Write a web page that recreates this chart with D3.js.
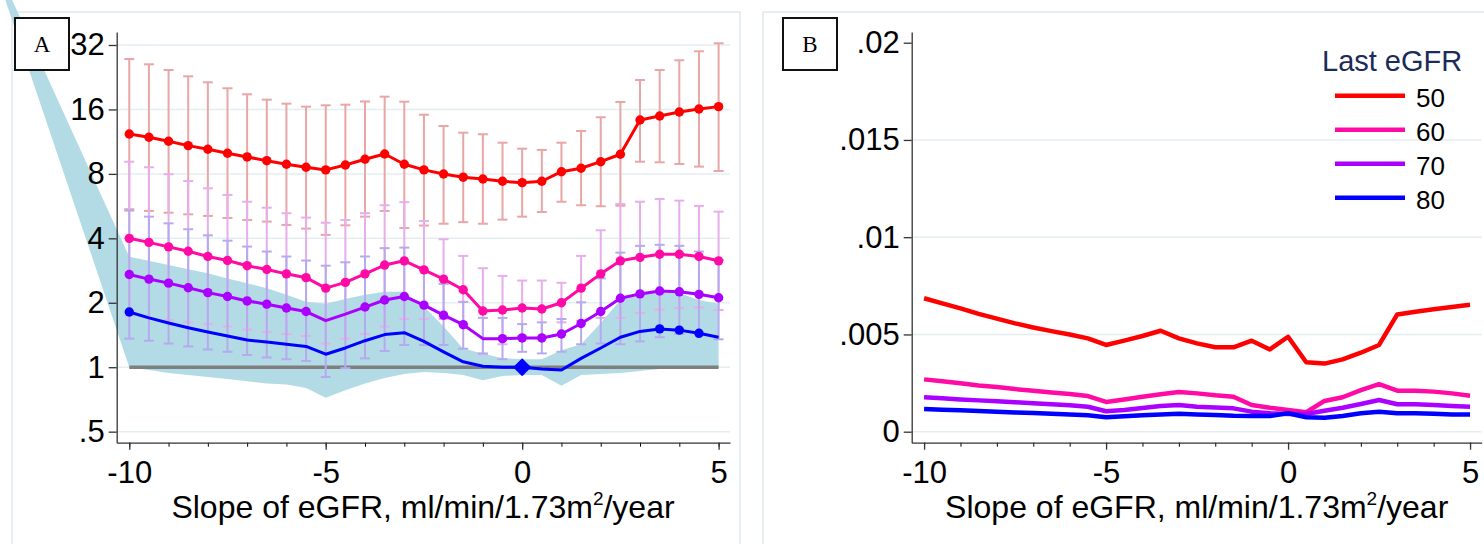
<!DOCTYPE html>
<html>
<head>
<meta charset="utf-8">
<script src="https://cdn.jsdelivr.net/npm/d3@7"></script>
<style>
  body { margin: 0; background: #fff; }
  svg { display: block; font-family: "Liberation Sans", Arial, sans-serif; }
</style>
</head>
<body>
<svg id="chart" width="1484" height="544"></svg>
<script>
// slope of eGFR (x categories)
let slopes = [-10, -9.5, -9, -8.5, -8, -7.5, -7, -6.5, -6, -5.5, -5, -4.5, -4, -3.5, -3, -2.5, -2, -1.5, -1, -0.5, 0, 0.5, 1, 1.5, 2, 2.5, 3, 3.5, 4, 4.5, 5];

// panel A: hazard ratios by last eGFR, with 95% CI
let hrRed = [12.29, 11.86, 11.36, 10.84, 10.43, 9.99, 9.60, 9.22, 8.87, 8.59, 8.35, 8.80, 9.36, 9.91, 8.87, 8.35, 7.99, 7.72, 7.57, 7.39, 7.28, 7.39, 8.19, 8.50, 9.12, 9.88, 14.28, 14.91, 15.57, 16.08, 16.49];
let hiRed = [27.53, 26.0, 24.46, 22.85, 21.42, 20.09, 18.83, 17.77, 17.02, 16.48, 16.73, 16.84, 17.43, 18.36, 17.39, 15.12, 13.39, 12.46, 12.25, 11.19, 10.49, 10.35, 11.19, 12.69, 14.71, 17.34, 21.96, 24.46, 27.15, 29.91, 32.59];
let loRed = [5.47, 5.37, 5.27, 5.18, 5.09, 4.98, 4.87, 4.79, 4.62, 4.44, 4.15, 4.60, 5.05, 5.37, 4.47, 4.59, 4.68, 4.76, 4.68, 4.89, 5.05, 5.31, 5.93, 5.71, 5.65, 5.68, 9.12, 9.06, 8.90, 8.65, 8.25];

let hrPink = [4.00, 3.83, 3.65, 3.48, 3.29, 3.15, 2.98, 2.86, 2.73, 2.62, 2.34, 2.49, 2.73, 3.00, 3.14, 2.85, 2.58, 2.30, 1.83, 1.85, 1.89, 1.87, 2.00, 2.34, 2.73, 3.14, 3.26, 3.37, 3.37, 3.29, 3.14];
let hiPink = [9.12, 8.59, 7.97, 7.41, 6.85, 6.38, 5.93, 5.56, 5.24, 5.00, 4.73, 4.87, 5.24, 5.71, 5.90, 4.82, 3.96, 3.31, 2.90, 2.67, 2.54, 2.54, 2.48, 3.31, 4.36, 5.79, 5.93, 6.11, 6.00, 5.67, 5.33];
let loPink = [1.74, 1.70, 1.66, 1.62, 1.59, 1.55, 1.50, 1.46, 1.43, 1.40, 1.29, 1.36, 1.43, 1.55, 1.68, 1.68, 1.68, 1.59, 1.15, 1.28, 1.40, 1.37, 1.62, 1.65, 1.70, 1.70, 1.79, 1.86, 1.89, 1.90, 1.85];

let hrPurple = [2.71, 2.58, 2.47, 2.35, 2.23, 2.14, 2.04, 1.97, 1.89, 1.82, 1.65, 1.77, 1.91, 2.06, 2.14, 1.95, 1.75, 1.58, 1.36, 1.36, 1.37, 1.37, 1.43, 1.60, 1.82, 2.10, 2.20, 2.27, 2.25, 2.19, 2.11];
let hiPurple = [5.39, 5.05, 4.70, 4.41, 4.13, 3.90, 3.66, 3.47, 3.29, 3.15, 2.98, 3.09, 3.29, 3.60, 3.62, 2.85, 2.45, 2.02, 1.70, 1.70, 1.59, 1.62, 1.68, 2.01, 2.60, 3.43, 3.69, 3.73, 3.69, 3.47, 3.17];
let loPurple = [1.36, 1.33, 1.29, 1.25, 1.21, 1.18, 1.14, 1.11, 1.09, 1.07, 0.90, 0.99, 1.10, 1.19, 1.27, 1.27, 1.27, 1.22, 1.16, 1.09, 1.18, 1.16, 1.18, 1.28, 1.29, 1.28, 1.32, 1.38, 1.43, 1.43, 1.35];
let dotPurple = [1, 1, 1, 1, 1, 1, 1, 1, 1, 1, 0, 0, 1, 1, 1, 1, 1, 1, 0, 1, 1, 1, 1, 1, 1, 1, 1, 1, 1, 1, 1];

let hrBlue = [1.81, 1.70, 1.61, 1.53, 1.46, 1.40, 1.34, 1.31, 1.28, 1.25, 1.15, 1.23, 1.33, 1.42, 1.45, 1.32, 1.18, 1.06, 1.01, 1.00, 1.00, 0.98, 0.97, 1.10, 1.23, 1.38, 1.47, 1.51, 1.49, 1.44, 1.38];
let dotBlue = [1, 0, 0, 0, 0, 0, 0, 0, 0, 0, 0, 0, 0, 0, 0, 0, 0, 0, 0, 0, 0, 0, 0, 0, 0, 0, 0, 1, 1, 1, 0];

// shaded CI band of the blue series (first point lies off to the left)
let bandSlopes = [-13.5].concat(slopes);
let bandHi = [84, 3.28, 3.14, 3.00, 2.87, 2.75, 2.60, 2.47, 2.34, 2.18, 2.02, 1.98, 2.08, 2.18, 2.25, 2.25, 1.92, 1.55, 1.22, 1.16, 1.10, 1.09, 1.09, 1.20, 1.28, 1.61, 2.06, 2.20, 2.25, 2.22, 2.06, 1.98];
let bandLo = [80, 1.00, 0.97, 0.94, 0.92, 0.90, 0.88, 0.86, 0.84, 0.83, 0.80, 0.72, 0.78, 0.84, 0.89, 0.93, 0.95, 0.94, 0.92, 0.87, 0.91, 0.92, 0.92, 0.82, 0.92, 0.93, 0.94, 0.96, 0.98, 0.99, 0.99, 0.99];

// panel B: predicted rates
let rateRed = [0.00686, 0.00660, 0.00634, 0.00606, 0.00581, 0.00557, 0.00536, 0.00517, 0.00500, 0.00480, 0.00446, 0.00468, 0.00492, 0.00519, 0.00480, 0.00454, 0.00434, 0.00434, 0.00468, 0.00423, 0.00488, 0.00357, 0.00350, 0.00372, 0.00406, 0.00446, 0.00603, 0.00617, 0.00629, 0.00641, 0.00653];
let ratePink = [0.00269, 0.00259, 0.00249, 0.00238, 0.00230, 0.00219, 0.00211, 0.00202, 0.00194, 0.00183, 0.00153, 0.00166, 0.00180, 0.00192, 0.00204, 0.00197, 0.00187, 0.00180, 0.00137, 0.00123, 0.00112, 0.00100, 0.00158, 0.00177, 0.00214, 0.00245, 0.00211, 0.00211, 0.00206, 0.00197, 0.00185];
let ratePurple = [0.00177, 0.00172, 0.00166, 0.00161, 0.00156, 0.00151, 0.00146, 0.00141, 0.00136, 0.00128, 0.00105, 0.00112, 0.00122, 0.00132, 0.00137, 0.00128, 0.00125, 0.00120, 0.00103, 0.00095, 0.00091, 0.00091, 0.00108, 0.00123, 0.00142, 0.00163, 0.00141, 0.00141, 0.00137, 0.00132, 0.00128];
let rateBlue = [0.00117, 0.00113, 0.00110, 0.00106, 0.00103, 0.00099, 0.00096, 0.00092, 0.00089, 0.00084, 0.00074, 0.00079, 0.00084, 0.00089, 0.00092, 0.00089, 0.00086, 0.00082, 0.00081, 0.00081, 0.00095, 0.00074, 0.00072, 0.00081, 0.00095, 0.00103, 0.00095, 0.00095, 0.00092, 0.00089, 0.00089];

let lastEgfr = ["50", "60", "70", "80"];
let colors = ["#ff0000", "#ff0aa5", "#aa00ff", "#0000ff"];
let barColors = ["#e8a6a6", "#e6aeea", "#b6aaee"];

let xTicks = [-10, -5, 0, 5];
let xMinor = [-10, -9, -8, -7, -6, -5, -4, -3, -2, -1, 0, 1, 2, 3, 4, 5];
let yTicksA = [0.5, 1, 2, 4, 8, 16, 32];
let yLabelsA = [".5", "1", "2", "4", "8", "16", "32"];
let yTicksB = [0, 0.005, 0.01, 0.015, 0.02];
let yLabelsB = ["0", ".005", ".01", ".015", ".02"];
let gridB = [0, 0.005, 0.01, 0.015];

let svg = d3.select("#chart");
let gridColor = "#e4edf0";

// panel frames
svg.append("rect").attr("x", 12).attr("y", 12).attr("width", 728).attr("height", 560)
  .attr("fill", "none").attr("stroke", "#dfe9ed").attr("stroke-width", 1.5);
svg.append("rect").attr("x", 763).attr("y", 12).attr("width", 760).attr("height", 560)
  .attr("fill", "none").attr("stroke", "#dfe9ed").attr("stroke-width", 1.5);

function xTitle(g, cx) {
  let t = g.append("text")
    .attr("x", cx).attr("y", 518)
    .attr("text-anchor", "middle")
    .style("font-size", "32px")
    .attr("fill", "#000");
  t.append("tspan").text("Slope of eGFR, ml/min/1.73m");
  t.append("tspan").attr("dy", -13).style("font-size", "19px").text("2");
  t.append("tspan").attr("dy", 13).text("/year");
}

function xAxes(g, x, yPos) {
  g.append("g")
    .attr("transform", "translate(0," + yPos + ")")
    .call(d3.axisBottom(x).tickValues(xMinor).tickSize(4).tickSizeOuter(0).tickFormat(""))
    .call(a => a.select(".domain").remove());
  let ax = g.append("g")
    .attr("transform", "translate(0," + yPos + ")")
    .call(d3.axisBottom(x).tickValues(xTicks).tickSize(7).tickSizeOuter(0).tickPadding(11)
      .tickFormat(d => d));
  ax.selectAll("text").style("font-size", "31px").attr("fill", "#000").style("font-family", "Liberation Sans, Arial, sans-serif");
  ax.selectAll("line, path").attr("stroke", "#333").attr("stroke-width", 1.3);
}

function panelLabel(g, x, y, letter) {
  g.append("rect").attr("x", x).attr("y", y).attr("width", 54).attr("height", 52)
    .attr("fill", "#fff").attr("stroke", "#111").attr("stroke-width", 2);
  g.append("text").attr("x", x + 27).attr("y", y + 34)
    .attr("text-anchor", "middle")
    .style("font-family", "Liberation Serif, Times New Roman, serif")
    .style("font-size", "23px")
    .text(letter);
}

// ---------- panel A ----------
let gA = svg.append("g");
let xA = d3.scaleLinear().domain([-10.32, 5.29]).range([116.7, 730]);
let yA = d3.scaleLog().base(2).domain([0.444, 36.8]).range([442.7, 32]);

gA.selectAll(".gridA").data(yTicksA).enter().append("line")
  .attr("x1", xA(-10.32)).attr("x2", xA(5.29))
  .attr("y1", d => yA(d)).attr("y2", d => yA(d))
  .attr("stroke", gridColor).attr("stroke-width", 1.5);

let band = d3.area()
  .x((d, i) => xA(bandSlopes[i]))
  .y0((d, i) => yA(bandLo[i]))
  .y1((d, i) => yA(bandHi[i]));
gA.append("path").datum(bandSlopes).attr("d", band).attr("fill", "#b3dbe6");

gA.append("line")
  .attr("x1", xA(-10)).attr("x2", xA(5))
  .attr("y1", yA(1)).attr("y2", yA(1))
  .attr("stroke", "#7f7f7f").attr("stroke-width", 3.5);

let seriesA = [
  { hr: hrRed, hi: hiRed, lo: loRed, dots: null },
  { hr: hrPink, hi: hiPink, lo: loPink, dots: null },
  { hr: hrPurple, hi: hiPurple, lo: loPurple, dots: dotPurple },
  { hr: hrBlue, hi: null, lo: null, dots: dotBlue }
];

seriesA.forEach(function (s, k) {
  if (!s.hi) return;
  let bars = gA.append("g").attr("stroke", barColors[k]).attr("stroke-width", 2);
  slopes.forEach(function (sl, i) {
    let cx = xA(sl);
    bars.append("line").attr("x1", cx).attr("x2", cx).attr("y1", yA(s.lo[i])).attr("y2", yA(s.hi[i]));
    bars.append("line").attr("x1", cx - 5).attr("x2", cx + 5).attr("y1", yA(s.hi[i])).attr("y2", yA(s.hi[i]));
    bars.append("line").attr("x1", cx - 5).attr("x2", cx + 5).attr("y1", yA(s.lo[i])).attr("y2", yA(s.lo[i]));
  });
});

seriesA.forEach(function (s, k) {
  let line = d3.line().x((d, i) => xA(slopes[i])).y(d => yA(d));
  gA.append("path").datum(s.hr).attr("d", line)
    .attr("fill", "none").attr("stroke", colors[k]).attr("stroke-width", 3)
    .attr("stroke-linejoin", "round");
  gA.selectAll(".dot" + k)
    .data(s.hr.map((v, i) => ({ x: slopes[i], v: v, show: s.dots ? s.dots[i] : 1 })).filter(d => d.show))
    .enter().append("circle")
    .attr("cx", d => xA(d.x)).attr("cy", d => yA(d.v))
    .attr("r", 4.7).attr("fill", colors[k]);
});

// reference point
gA.append("path")
  .attr("d", d3.symbol(d3.symbolSquare, 165)())
  .attr("transform", "translate(" + xA(0) + "," + yA(1) + ") rotate(45)")
  .attr("fill", "#0000ff");

let yAxisA = gA.append("g")
  .attr("transform", "translate(" + xA(-10.32) + ",0)")
  .call(d3.axisLeft(yA).tickValues(yTicksA).tickSize(8).tickSizeOuter(0).tickPadding(4)
    .tickFormat((d, i) => yLabelsA[i]));
yAxisA.selectAll("text").style("font-size", "31px").attr("fill", "#000").style("font-family", "Liberation Sans, Arial, sans-serif");
yAxisA.selectAll("line, path").attr("stroke", "#333").attr("stroke-width", 1.3);

xAxes(gA, xA, 442.7);
xTitle(gA, 423);
panelLabel(gA, 15, 18, "A");

// ---------- panel B ----------
let gB = svg.append("g");
let xB = d3.scaleLinear().domain([-10.34, 5.32]).range([911.7, 1481.7]);
let yB = d3.scaleLinear().domain([-0.000566, 0.02055]).range([442.7, 32]);

gB.selectAll(".gridB").data(gridB).enter().append("line")
  .attr("x1", xB(-10.34)).attr("x2", xB(5.32))
  .attr("y1", d => yB(d)).attr("y2", d => yB(d))
  .attr("stroke", gridColor).attr("stroke-width", 1.5);

[rateRed, ratePink, ratePurple, rateBlue].forEach(function (r, k) {
  let line = d3.line().x((d, i) => xB(slopes[i])).y(d => yB(d));
  gB.append("path").datum(r).attr("d", line)
    .attr("fill", "none").attr("stroke", colors[k]).attr("stroke-width", 4.5)
    .attr("stroke-linejoin", "round");
});

let yAxisB = gB.append("g")
  .attr("transform", "translate(" + xB(-10.34) + ",0)")
  .call(d3.axisLeft(yB).tickValues(yTicksB).tickSize(8).tickSizeOuter(0).tickPadding(4)
    .tickFormat((d, i) => yLabelsB[i]));
yAxisB.selectAll("text").style("font-size", "31px").attr("fill", "#000").style("font-family", "Liberation Sans, Arial, sans-serif");
yAxisB.selectAll("line, path").attr("stroke", "#333").attr("stroke-width", 1.3);

xAxes(gB, xB, 442.7);
xTitle(gB, 1196.7);
panelLabel(gB, 783, 18, "B");

// legend
let leg = gB.append("g");
leg.append("text").attr("x", 1322).attr("y", 71)
  .style("font-size", "29px").attr("fill", "#1c2b5a").text("Last eGFR");
lastEgfr.forEach(function (lab, k) {
  let ly = 95.7 + k * 34;
  leg.append("line").attr("x1", 1335).attr("x2", 1405).attr("y1", ly).attr("y2", ly)
    .attr("stroke", colors[k]).attr("stroke-width", 4.5);
  leg.append("text").attr("x", 1416).attr("y", ly + 11)
    .style("font-size", "26px").attr("fill", "#000").text(lab);
});
</script>
</body>
</html>
